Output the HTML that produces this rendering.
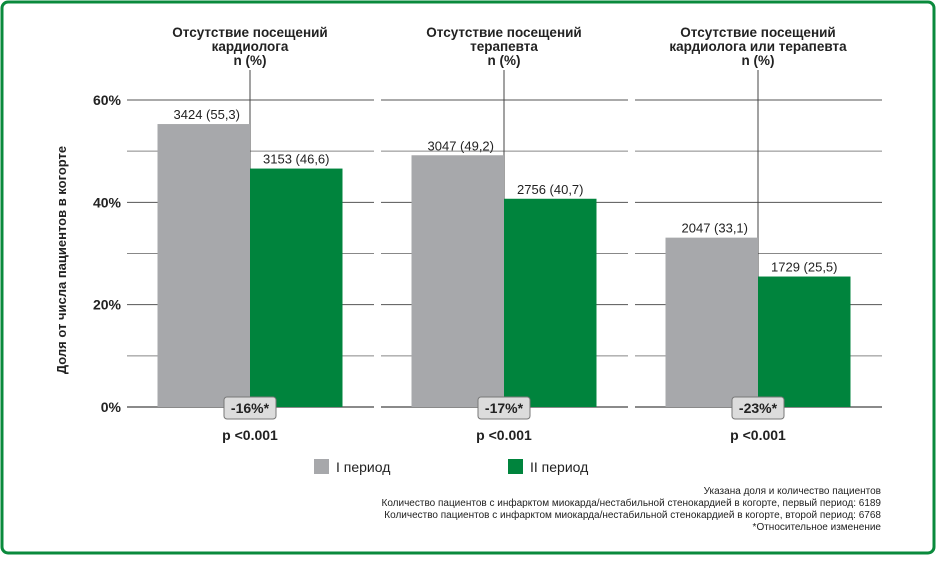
<!DOCTYPE html>
<html><head><meta charset="utf-8"><style>
body{margin:0;background:#fff;}
svg text{font-family:"Liberation Sans",Arial,sans-serif;}
</style></head><body>
<svg width="937" height="556" viewBox="0 0 937 556">
<rect x="2" y="2" width="932" height="551" rx="6" fill="#fff" stroke="#0a8a3c" stroke-width="3"/>
<g id="grid"></g>
<g id="bars"></g>
<text transform="translate(66,260) rotate(-90)" text-anchor="middle" font-size="13" font-weight="bold" fill="#222">Доля от числа пациентов в когорте</text>
<g>
<rect x="314" y="459" width="15" height="15" fill="#a7a8ab"/>
<text x="336" y="472" font-size="14" fill="#222">I период</text>
<rect x="508" y="459" width="15" height="15" fill="#00843d"/>
<text x="530" y="472" font-size="14" fill="#222">II период</text>
</g>
<g font-size="10" fill="#222" text-anchor="end">
<text x="881" y="494">Указана доля и количество пациентов</text>
<text x="881" y="506">Количество пациентов с инфарктом миокарда/нестабильной стенокардией в когорте, первый период: 6189</text>
<text x="881" y="518">Количество пациентов с инфарктом миокарда/нестабильной стенокардией в когорте, второй период: 6768</text>
<text x="881" y="530">*Относительное изменение</text>
</g>
</svg>
<script>
const titles=[["Отсутствие посещений","кардиолога","n (%)"],["Отсутствие посещений","терапевта","n (%)"],["Отсутствие посещений","кардиолога или терапевта","n (%)"]];
const period1=[55.3,49.2,33.1];
const period2=[46.6,40.7,25.5];
const labels1=["3424 (55,3)","3047 (49,2)","2047 (33,1)"];
const labels2=["3153 (46,6)","2756 (40,7)","1729 (25,5)"];
const changes=["-16%*","-17%*","-23%*"];
const pvals=["p <0.001","p <0.001","p <0.001"];
const yTicks=[0,20,40,60];
const NS="http://www.w3.org/2000/svg";
const svg=document.querySelector('svg');
const grid=document.getElementById('grid'),bars=document.getElementById('bars');
const y0=407,y60=100;
function y(v){return y0-(v/60)*(y0-y60);}
function panelX(i){return 127+i*254;}
function mk(tag,attrs,parent,txt){const e=document.createElementNS(NS,tag);for(const k in attrs)e.setAttribute(k,attrs[k]);if(txt!==undefined)e.textContent=txt;parent.appendChild(e);return e;}
for(let i=0;i<3;i++){
  const px=panelX(i);
  for(let v=10;v<=60;v+=10){
    const l=mk('line',{x1:px,x2:px+247,y1:y(v),y2:y(v),stroke:v%20===0?'#555':'#888','stroke-width':1},grid);
    
    
  }
  const b=mk('line',{x1:px,x2:px+247,y1:y0,y2:y0,stroke:'#444','stroke-width':1.2},grid);
  
  
}
yTicks.forEach(t=>{
  const e=mk('text',{x:121,y:y(t)+5,'text-anchor':'end','font-size':14,'font-weight':'bold',fill:'#222'},grid,t+'%');
  
  
});
for(let i=0;i<3;i++){
  const cx=panelX(i)+123;
  const bw=92.5;
  const vl=mk('line',{x1:cx,x2:cx,y1:70,y2:414,stroke:'#444','stroke-width':1},bars);
  
  
  const r1=mk('rect',{x:cx-bw,y:y(period1[i]),width:bw,height:y0-y(period1[i]),fill:'#a7a8ab'},bars);
  
  
  const r2=mk('rect',{x:cx,y:y(period2[i]),width:bw,height:y0-y(period2[i]),fill:'#00843d'},bars);
  
  
  const t1=mk('text',{x:cx-bw/2+3,y:y(period1[i])-5,'text-anchor':'middle','font-size':13,fill:'#222'},bars,labels1[i]);
  
  
  const t2=mk('text',{x:cx+bw/2,y:y(period2[i])-5,'text-anchor':'middle','font-size':13,fill:'#222'},bars,labels2[i]);
  
  
  const bg=mk('rect',{x:cx-26,y:397,width:52,height:22,rx:3,fill:'#dcdcdc',stroke:'#777','stroke-width':1},bars);
  
  
  const ct=mk('text',{x:cx,y:413,'text-anchor':'middle','font-size':14,'font-weight':'bold',fill:'#222'},bars,changes[i]);
  
  
  const pt=mk('text',{x:cx,y:440,'text-anchor':'middle','font-size':14,'font-weight':'bold',fill:'#222'},bars,pvals[i]);
  
  
  titles[i].forEach((s,j)=>{
    const tt=mk('text',{x:cx,y:37+j*14,'text-anchor':'middle','font-size':13.5,'font-weight':'bold',fill:'#222'},bars,s);
    
    
  });
}
</script>
</body></html>
